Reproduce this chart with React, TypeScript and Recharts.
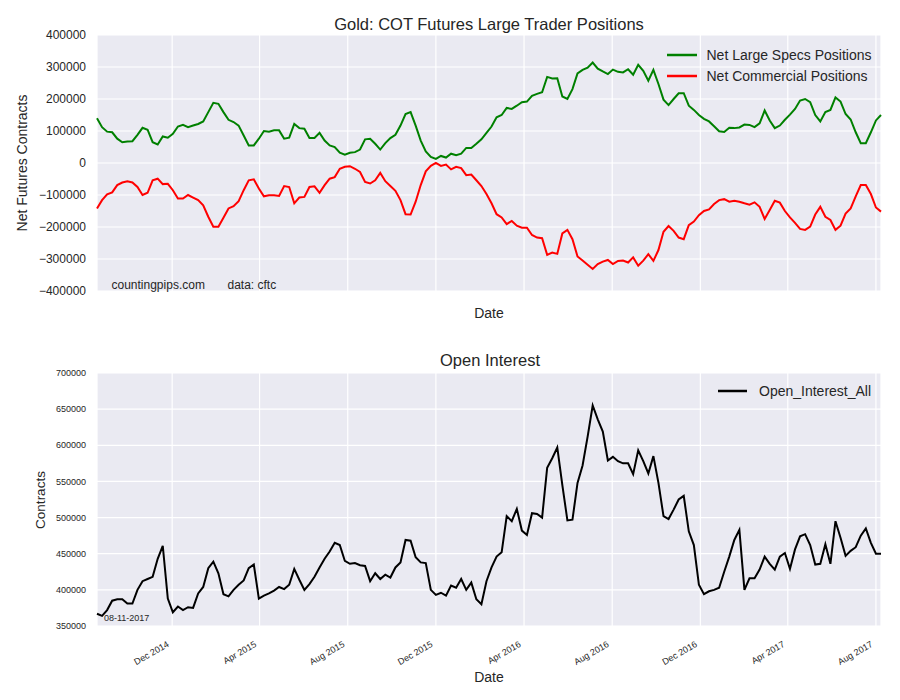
import { LineChart, Line, XAxis, YAxis, CartesianGrid } from 'recharts';

// weekly COT reports, Tuesday 2014-08-19 .. 2017-08-08
const START = Date.UTC(2014, 7, 19);
const WEEK = 7 * 24 * 3600 * 1000;

const netLargeSpecs = [
  140000, 112000, 98000, 96000, 76000, 65000, 67000, 68000, 88000, 110000,
  104000, 65000, 58000, 83000, 79000, 91000, 114000, 119000, 112000, 117000,
  122000, 130000, 159000, 188000, 185000, 159000, 135000, 128000, 117000, 86000,
  55000, 55000, 76000, 100000, 98000, 102000, 102000, 76000, 79000, 122000,
  109000, 107000, 78000, 78000, 94000, 70000, 55000, 50000, 32000, 26000,
  32000, 34000, 42000, 74000, 76000, 60000, 42000, 62000, 78000, 88000,
  117000, 153000, 159000, 117000, 70000, 36000, 19000, 13000, 22000, 17000,
  29000, 24000, 29000, 47000, 47000, 60000, 74000, 94000, 114000, 143000,
  150000, 172000, 169000, 179000, 190000, 192000, 210000, 216000, 221000, 269000,
  264000, 265000, 208000, 200000, 231000, 280000, 291000, 298000, 314000, 295000,
  286000, 278000, 292000, 285000, 283000, 293000, 276000, 307000, 288000, 257000,
  291000, 247000, 198000, 181000, 200000, 218000, 218000, 179000, 166000, 150000,
  138000, 130000, 115000, 99000, 97000, 110000, 109000, 111000, 120000, 119000,
  112000, 124000, 164000, 133000, 109000, 117000, 135000, 151000, 169000, 195000,
  200000, 190000, 150000, 130000, 159000, 166000, 205000, 192000, 153000, 136000,
  96000, 62000, 62000, 96000, 133000, 150000,
];

const netCommercial = [
  -142000, -116000, -98000, -92000, -69000, -61000, -57000, -61000, -75000, -100000,
  -93000, -54000, -49000, -66000, -65000, -85000, -111000, -111000, -100000, -108000,
  -116000, -132000, -168000, -199000, -199000, -171000, -142000, -135000, -119000, -85000,
  -54000, -51000, -80000, -104000, -101000, -101000, -103000, -72000, -75000, -126000,
  -108000, -106000, -75000, -73000, -93000, -69000, -49000, -44000, -18000, -12000,
  -10000, -18000, -28000, -59000, -64000, -54000, -31000, -57000, -72000, -87000,
  -116000, -160000, -161000, -121000, -69000, -26000, -9000, 0, -9000, -5000,
  -20000, -12000, -16000, -38000, -36000, -54000, -72000, -97000, -126000, -160000,
  -170000, -191000, -181000, -196000, -202000, -202000, -225000, -233000, -235000, -287000,
  -280000, -284000, -220000, -209000, -238000, -292000, -305000, -318000, -331000, -316000,
  -308000, -303000, -316000, -306000, -305000, -311000, -295000, -321000, -305000, -285000,
  -306000, -272000, -215000, -197000, -212000, -233000, -238000, -194000, -183000, -163000,
  -150000, -145000, -128000, -116000, -113000, -121000, -118000, -121000, -126000, -130000,
  -123000, -137000, -175000, -147000, -118000, -124000, -150000, -170000, -187000, -206000,
  -209000, -199000, -161000, -137000, -168000, -178000, -209000, -196000, -158000, -142000,
  -104000, -69000, -69000, -97000, -139000, -152000,
];

const openInterestAll = [
  367000, 364000, 372000, 385000, 387000, 387000, 381000, 381000, 400000, 412000,
  415000, 418000, 443000, 461000, 388000, 369000, 377000, 372000, 376000, 375000,
  395000, 404000, 430000, 439000, 423000, 394000, 391000, 400000, 407000, 413000,
  430000, 435000, 388000, 392000, 395000, 399000, 404000, 401000, 407000, 429000,
  414000, 400000, 408000, 418000, 431000, 443000, 453000, 465000, 462000, 440000,
  436000, 437000, 434000, 433000, 412000, 423000, 415000, 421000, 417000, 431000,
  438000, 469000, 468000, 445000, 438000, 437000, 400000, 393000, 396000, 392000,
  406000, 403000, 415000, 400000, 410000, 387000, 380000, 412000, 431000, 446000,
  452000, 502000, 495000, 512000, 482000, 476000, 506000, 505000, 500000, 569000,
  582000, 597000, 545000, 496000, 497000, 548000, 572000, 612000, 655000, 636000,
  619000, 579000, 584000, 578000, 575000, 575000, 560000, 593000, 578000, 561000,
  585000, 548000, 502000, 498000, 511000, 525000, 530000, 481000, 462000, 407000,
  394000, 398000, 400000, 403000, 425000, 446000, 469000, 483000, 400000, 416000,
  416000, 428000, 446000, 436000, 428000, 446000, 451000, 429000, 456000, 474000,
  477000, 462000, 435000, 436000, 463000, 436000, 495000, 472000, 447000, 454000,
  459000, 475000, 485000, 465000, 450000, 450000,
];

const dateTicks = [
  '2014-12-01', '2015-04-01', '2015-08-01', '2015-12-01', '2016-04-01',
  '2016-08-01', '2016-12-01', '2017-04-01', '2017-08-01',
];
const dateTickLabels = [
  'Dec 2014', 'Apr 2015', 'Aug 2015', 'Dec 2015', 'Apr 2016',
  'Aug 2016', 'Dec 2016', 'Apr 2017', 'Aug 2017',
];
const positionTicks = [-400000, -300000, -200000, -100000, 0, 100000, 200000, 300000, 400000];
const oiTicks = [350000, 400000, 450000, 500000, 550000, 600000, 650000, 700000];

const END = START + (netLargeSpecs.length - 1) * WEEK;
const tickTimes = dateTicks.map(d => Date.parse(d + 'T00:00:00Z'));

const rows = netLargeSpecs.map((v, i) => ({
  t: START + i * WEEK,
  specs: v,
  commercial: netCommercial[i],
  oi: openInterestAll[i],
}));

const FONT = '"Liberation Sans", Arial, sans-serif';
const INK = '#262626';
const BG = '#EAEAF2';

const fmtSigned = (v: number) => (v < 0 ? '\u2212' + Math.abs(v) : String(v));

// rotated date labels, right end hanging just under the tick
const DateTick = ({ x = 0, y = 0, payload }: { x?: number; y?: number; payload?: { value: number } }) => {
  const idx = tickTimes.indexOf(payload?.value ?? -1);
  const cx = x - 6;
  const cy = y + 6;
  return (
    <text
      x={cx}
      y={cy}
      dy={7}
      transform={`rotate(-30 ${cx} ${cy})`}
      textAnchor="end"
      fontSize={9}
      fill={INK}
      fontFamily={FONT}
    >
      {dateTickLabels[idx]}
    </text>
  );
};

export default function App() {
  return (
    <div style={{ position: 'absolute', left: 0, top: 0, width: 900, height: 700, background: '#fff', fontFamily: FONT }}>
      <div style={{ position: 'absolute', left: 0, top: 0 }}>
        <LineChart width={900} height={330} data={rows} margin={{ top: 35, right: 19, bottom: 9, left: 37 }}>
          <CartesianGrid fill={BG} stroke="#FFFFFF" strokeWidth={1.2} />
          <XAxis
            type="number"
            dataKey="t"
            domain={[START, END]}
            ticks={tickTimes}
            interval={0}
            height={30}
            tickFormatter={() => ''}
            axisLine={false}
            tickLine={false}
          />
          <YAxis
            domain={[-400000, 400000]}
            ticks={positionTicks}
            interval={0}
            width={60}
            tickFormatter={fmtSigned}
            tick={{ fill: INK, fontSize: 12, fontFamily: FONT }}
            tickMargin={5}
            axisLine={false}
            tickLine={false}
          />
          <Line type="linear" dataKey="specs" stroke="#008000" strokeWidth={2} dot={false} isAnimationActive={false} />
          <Line type="linear" dataKey="commercial" stroke="#FF0000" strokeWidth={2} dot={false} isAnimationActive={false} />
        </LineChart>
      </div>
      <div style={{ position: 'absolute', left: 0, top: 330 }}>
        <LineChart width={900} height={370} data={rows} margin={{ top: 43, right: 19, bottom: 24, left: 37 }}>
          <CartesianGrid fill={BG} stroke="#FFFFFF" strokeWidth={1.2} />
          <XAxis
            type="number"
            dataKey="t"
            domain={[START, END]}
            ticks={tickTimes}
            interval={0}
            height={50}
            tick={<DateTick />}
            axisLine={false}
            tickLine={false}
          />
          <YAxis
            domain={[350000, 700000]}
            ticks={oiTicks}
            interval={0}
            width={60}
            tick={{ fill: INK, fontSize: 9, fontFamily: FONT }}
            tickMargin={5}
            axisLine={false}
            tickLine={false}
          />
          <Line type="linear" dataKey="oi" stroke="#000000" strokeWidth={2} dot={false} isAnimationActive={false} />
        </LineChart>
      </div>
      <svg width={900} height={700} style={{ position: 'absolute', left: 0, top: 0, pointerEvents: 'none' }}>
        <g fill={INK} fontFamily={FONT}>
          <text x={489} y={24} fontSize={16.5} textAnchor="middle" dominantBaseline="central">
            Gold: COT Futures Large Trader Positions
          </text>
          <text x={22} y={163} fontSize={14} textAnchor="middle" dominantBaseline="central" transform="rotate(-90 22 163)">
            Net Futures Contracts
          </text>
          <text x={489} y={313} fontSize={14} textAnchor="middle" dominantBaseline="central">Date</text>
          <text x={111.5} y={285} fontSize={12} dominantBaseline="central">countingpips.com</text>
          <text x={227.5} y={285} fontSize={12} dominantBaseline="central">data: cftc</text>
          <line x1={667} x2={697} y1={55} y2={55} stroke="#008000" strokeWidth={2.5} />
          <text x={706.5} y={55} fontSize={14} dominantBaseline="central">Net Large Specs Positions</text>
          <line x1={667} x2={697} y1={76} y2={76} stroke="#FF0000" strokeWidth={2.5} />
          <text x={706.5} y={76} fontSize={14} dominantBaseline="central">Net Commercial Positions</text>

          <text x={490} y={360} fontSize={16.5} textAnchor="middle" dominantBaseline="central">Open Interest</text>
          <text x={40} y={500} fontSize={13.5} textAnchor="middle" dominantBaseline="central" transform="rotate(-90 40 500)">
            Contracts
          </text>
          <text x={489} y={677} fontSize={14} textAnchor="middle" dominantBaseline="central">Date</text>
          <text x={104} y={617.5} fontSize={9} dominantBaseline="central">08-11-2017</text>
          <line x1={718} x2={747} y1={391} y2={391} stroke="#000000" strokeWidth={2.5} />
          <text x={759} y={391} fontSize={14} dominantBaseline="central">Open_Interest_All</text>
        </g>
      </svg>
    </div>
  );
}
